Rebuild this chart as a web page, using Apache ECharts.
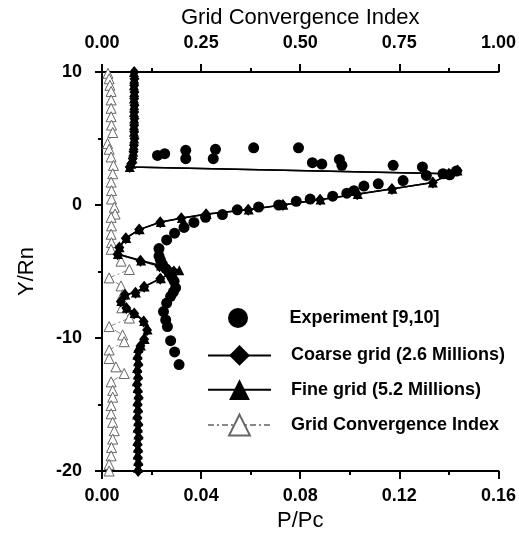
<!DOCTYPE html>
<html>
<head>
<meta charset="utf-8">
<script src="https://cdn.jsdelivr.net/npm/echarts@6/dist/echarts.min.js"></script>
<style>html,body{margin:0;padding:0;background:#fff}#c{width:519px;height:540px}</style>
</head>
<body>
<div id="c"></div>
<script>
// ---- Data ----
const seriesNames = ['Experiment [9,10]', 'Coarse grid (2.6 Millions)', 'Fine grid (5.2 Millions)', 'Grid Convergence Index'];

// Experiment: [P/Pc, Y/Rn]
const experiment = [
  [0.0224,3.73],[0.0253,3.86],[0.0338,4.11],[0.0338,3.48],[0.0458,4.19],[0.0449,3.48],
  [0.0612,4.30],[0.0793,4.30],[0.0849,3.18],[0.0887,3.08],[0.0958,3.43],[0.0968,2.98],
  [0.1175,2.98],[0.1293,2.86],[0.1309,2.22],[0.1215,1.84],[0.1376,2.35],[0.1403,2.27],[0.1430,2.55],
  [0.1115,1.59],[0.1057,1.42],[0.1017,1.08],[0.0988,0.89],[0.0931,0.66],[0.0840,0.45],
  [0.0784,0.28],[0.0713,0.00],[0.0632,-0.15],[0.0546,-0.36],[0.0486,-0.72],[0.0418,-0.93],
  [0.0371,-1.31],[0.0331,-1.69],[0.0293,-2.12],[0.0261,-2.63],[0.0230,-3.28],[0.0230,-3.84],
  [0.0236,-4.15],[0.0244,-4.47],[0.0258,-4.80],[0.0271,-5.10],[0.0282,-5.42],[0.0291,-5.73],
  [0.0297,-6.23],[0.0288,-6.55],[0.0277,-6.87],[0.0261,-7.37],[0.0248,-8.01],[0.0257,-8.64],
  [0.0264,-9.14],[0.0277,-10.20],[0.0293,-11.05],[0.0311,-12.00]
];

// Coarse grid: [P/Pc, Y/Rn]
const coarse = [
  [0.0130,10],[0.0131,9.5],[0.0130,9],[0.0131,8.5],[0.0130,8],[0.0131,7.5],[0.0130,7],
  [0.0131,6.5],[0.0130,6],[0.0130,5.5],[0.0131,5],[0.0129,4.5],[0.0127,4],[0.0124,3.5],
  [0.0118,3.1],[0.0112,2.85],
  [0.1400,2.35],[0.1435,2.6],[0.1335,1.7],[0.1170,1.2],[0.1030,0.8],[0.0880,0.4],[0.0730,0.0],
  [0.0590,-0.35],[0.0420,-0.7],[0.0320,-1.0],[0.0235,-1.3],[0.0150,-1.85],[0.0096,-2.5],
  [0.0070,-3.2],[0.0063,-3.7],[0.0155,-4.2],[0.0232,-4.6],[0.0290,-5.0],[0.0235,-5.55],
  [0.0170,-6.15],[0.0135,-6.6],[0.0092,-6.75],[0.0076,-7.25],[0.0098,-7.75],[0.0130,-8.15],
  [0.0168,-8.75],[0.0182,-9.4],[0.0170,-10.1],[0.0155,-10.6],[0.0148,-11],[0.0144,-11.5],
  [0.0147,-12],[0.0143,-12.5],[0.0146,-13],[0.0142,-13.5],[0.0145,-14],[0.0148,-14.5],
  [0.0144,-15],[0.0146,-15.5],[0.0143,-16],[0.0147,-16.5],[0.0145,-17],[0.0148,-17.5],
  [0.0144,-18],[0.0146,-18.5],[0.0145,-19],[0.0147,-19.5],[0.0146,-20]
];

// Fine grid: [P/Pc, Y/Rn]
const fine = [
  [0.0129,10],[0.0130,9.5],[0.0129,9],[0.0130,8.5],[0.0129,8],[0.0130,7.5],[0.0129,7],
  [0.0130,6.5],[0.0129,6],[0.0129,5.5],[0.0130,5],[0.0128,4.5],[0.0126,4],[0.0123,3.5],
  [0.0118,3.1],[0.0112,2.85],
  [0.1400,2.35],[0.1435,2.6],[0.1335,1.7],[0.1172,1.22],[0.1032,0.82],[0.0882,0.42],
  [0.0732,0.02],[0.0592,-0.33],[0.0422,-0.68],[0.0322,-0.98],[0.0237,-1.28],[0.0152,-1.83],
  [0.0098,-2.48],[0.0071,-3.18],[0.0064,-3.68],[0.0158,-4.18],[0.0238,-4.55],[0.0312,-4.9],
  [0.0238,-5.5],[0.0172,-6.12],[0.0137,-6.57],[0.0094,-6.72],[0.0078,-7.22],[0.0100,-7.72],
  [0.0132,-8.12],[0.0170,-8.72],[0.0184,-9.37],[0.0172,-10.07],[0.0157,-10.57],[0.0146,-10.75],
  [0.0143,-11.25],[0.0146,-11.75],[0.0142,-12.25],[0.0145,-12.75],[0.0141,-13.25],
  [0.0144,-13.75],[0.0147,-14.25],[0.0143,-14.75],[0.0145,-15.25],[0.0142,-15.75],
  [0.0146,-16.25],[0.0144,-16.75],[0.0147,-17.25],[0.0143,-17.75],[0.0145,-18.25],
  [0.0144,-18.75],[0.0146,-19.25],[0.0145,-19.75]
];

// Grid Convergence Index: [GCI, Y/Rn]
const gci = [
  [0.015,9.9],[0.018,9.49],[0.020,9.0],[0.023,8.54],[0.023,7.90],[0.023,7.27],[0.023,6.64],
  [0.024,6.01],[0.027,5.45],[0.014,4.62],[0.018,4.19],[0.023,3.61],[0.029,2.98],[0.027,2.35],
  [0.023,1.72],[0.024,1.08],[0.024,0.45],[0.031,-0.17],[0.033,-0.68],[0.023,-0.93],
  [0.024,-1.57],[0.023,-2.20],[0.024,-2.83],[0.023,-3.33],[0.048,-4.22],[0.069,-4.85],
  [0.018,-5.48],[0.048,-6.08],[0.052,-6.74],[0.050,-7.73],[0.069,-8.50],[0.018,-9.14],
  [0.052,-9.77],[0.056,-10.28],[0.018,-10.90],[0.018,-11.54],[0.035,-12.17],[0.056,-12.67],
  [0.023,-13.30],[0.027,-13.94],[0.027,-14.45],[0.023,-15.08],[0.023,-15.70],[0.027,-16.34],
  [0.031,-16.97],[0.027,-17.60],[0.024,-18.23],[0.023,-18.86],[0.018,-19.50],[0.018,-20.0]
];

// Axes
const xBottom = {min: 0, max: 0.16, interval: 0.04, name: 'P/Pc'};
const xTop = {min: 0, max: 1.0, interval: 0.25, name: 'Grid Convergence Index'};
const yLeft = {min: -20, max: 10, interval: 10, name: 'Y/Rn'};

// ---- Chart ----
const FONT = '"Liberation Sans", Arial, sans-serif';
const chart = echarts.init(document.getElementById('c'), null, {renderer: 'canvas'});
const axisLine = {show: true, onZero: false, lineStyle: {color: '#000', width: 2}};
const labelStyle = {color: '#000', fontFamily: FONT, fontWeight: 'bold', fontSize: 18};
const nameStyle = {color: '#000', fontFamily: FONT, fontSize: 22};
const legendText = {color: '#000', fontFamily: FONT, fontWeight: 'bold', fontSize: 18, padding: [0, 0, 0, 15]};

chart.setOption({
  animation: false,
  backgroundColor: '#fff',
  grid: {left: 102, right: 20, top: 72, bottom: 69, containLabel: false},
  xAxis: [
    {
      type: 'value', position: 'bottom', min: xBottom.min, max: xBottom.max, interval: xBottom.interval,
      name: xBottom.name, nameLocation: 'middle', nameGap: 37, nameTextStyle: nameStyle,
      axisLine: axisLine,
      axisTick: {show: true, length: 8, lineStyle: {color: '#000', width: 2}},
      minorTick: {show: true, splitNumber: 2, length: 4, lineStyle: {color: '#000', width: 2}},
      splitLine: {show: false},
      axisLabel: Object.assign({margin: 16, formatter: v => v.toFixed(2)}, labelStyle)
    },
    {
      type: 'value', position: 'top', min: xTop.min, max: xTop.max, interval: xTop.interval,
      name: xTop.name, nameLocation: 'middle', nameGap: 43, nameTextStyle: nameStyle,
      axisLine: axisLine,
      axisTick: {show: true, length: 8, lineStyle: {color: '#000', width: 2}},
      minorTick: {show: true, splitNumber: 2, length: 4, lineStyle: {color: '#000', width: 2}},
      splitLine: {show: false},
      axisLabel: Object.assign({margin: 20, formatter: v => v.toFixed(2)}, labelStyle)
    }
  ],
  yAxis: [{
    type: 'value', min: yLeft.min, max: yLeft.max, interval: yLeft.interval,
    name: yLeft.name, nameLocation: 'middle', nameGap: 64, nameRotate: 90, nameTextStyle: nameStyle,
    axisLine: axisLine,
    axisTick: {show: true, length: 7, lineStyle: {color: '#000', width: 2}},
    minorTick: {show: true, splitNumber: 2, length: 4, lineStyle: {color: '#000', width: 2}},
    splitLine: {show: false},
    axisLabel: Object.assign({margin: 20}, labelStyle)
  }],
  legend: [
    {
      data: [seriesNames[0]],
      orient: 'vertical', left: 228, top: 308, padding: 0,
      itemWidth: 63, itemHeight: 20,
      textStyle: legendText
    },
    {
      data: seriesNames.slice(1),
      orient: 'vertical', left: 207, top: 345, padding: 0,
      itemWidth: 63, itemHeight: 26, itemGap: 13.5,
      textStyle: legendText
    }
  ],
  series: [
    {
      name: seriesNames[3], type: 'line', xAxisIndex: 1, yAxisIndex: 0,
      data: gci, symbol: 'triangle', symbolSize: [10, 10],
      lineStyle: {color: '#888', width: 1, type: [6, 3, 2, 3]},
      itemStyle: {color: '#fff', borderColor: '#666', borderWidth: 1},
      z: 2
    },
    {
      name: seriesNames[2], type: 'line', xAxisIndex: 0, yAxisIndex: 0,
      data: fine, symbol: 'triangle', symbolSize: [10, 10],
      lineStyle: {color: '#000', width: 1.5},
      itemStyle: {color: '#000'},
      z: 3
    },
    {
      name: seriesNames[1], type: 'line', xAxisIndex: 0, yAxisIndex: 0,
      data: coarse, symbol: 'diamond', symbolSize: [10, 12],
      lineStyle: {color: '#000', width: 1.5},
      itemStyle: {color: '#000'},
      z: 4
    },
    {
      name: seriesNames[0], type: 'scatter', xAxisIndex: 0, yAxisIndex: 0,
      data: experiment, symbol: 'circle', symbolSize: 11,
      itemStyle: {color: '#000', opacity: 1},
      z: 5
    }
  ]
});
</script>
</body>
</html>
